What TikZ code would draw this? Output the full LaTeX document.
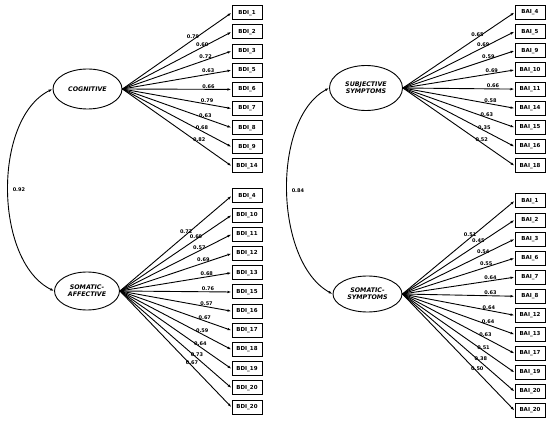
\documentclass[tikz,border=0pt]{standalone}
\usepackage{fontspec}
\setmainfont{DejaVu Sans}[ItalicFont={* Oblique}, BoldItalicFont={* Bold Oblique}]
\usetikzlibrary{arrows.meta,shapes.geometric,calc}

\begin{document}
\begin{tikzpicture}[x=1pt, y=-1pt,
  latente/.style={draw, ellipse, line width=0.9pt, inner sep=0pt, align=center,
    font=\fontsize{6.3}{7.2}\selectfont\bfseries\itshape},
  item/.style={draw, rectangle, line width=1pt, minimum width=30pt, minimum height=14pt,
    inner sep=0pt, font=\fontsize{5.5}{6}\selectfont\bfseries},
  carico/.style={-{Latex[length=4pt,width=2.6pt]}, line width=0.9pt},
  cov/.style={{Latex[length=4pt,width=2.6pt]}-{Latex[length=4pt,width=2.6pt]}, line width=0.9pt},
  peso/.style={font=\fontsize{5}{6}\selectfont\bfseries, inner sep=1pt}]

\useasboundingbox (0,0) rectangle (550,425);

% Fattori latenti
\node[latente, minimum width=69pt, minimum height=40pt] (cog) at (87.5,89) {COGNITIVE};
\node[latente, minimum width=65pt, minimum height=38pt] (saff) at (87,291) {SOMATIC-\\AFFECTIVE};
\node[latente, minimum width=73pt, minimum height=45pt] (subj) at (366,88) {SUBJECTIVE\\SYMPTOMS};
\node[latente, minimum width=69pt, minimum height=36pt] (ssym) at (367.5,294) {SOMATIC-\\SYMPTOMS};

% BDI - cognitivo (nome/etichetta/peso/distanza del peso)
\foreach \nome/\etich/\val/\d [count=\i from 0] in {bdi1/1/0.79/86, bdi2/2/0.60/90,
    bdi3/3/0.72/88, bdi5/5/0.63/87, bdi6/6/0.66/86, bdi7/7/0.79/86, bdi8/8/0.63/88,
    bdi9/9/0.68/90, bdi14/14/0.82/94} {
  \node[item] (\nome) at (247,12.8+19.15*\i) {BDI\_\etich};
  \draw[carico] (cog.east) -- (\nome.west);
  \node[peso, above] (w\nome) at ($(cog.east)!\d pt!(\nome.west)$) {\val};
}

% BDI - somatico-affettivo
\foreach \nome/\etich/\val/\d [count=\i from 0] in {bdi4/4/0.72/87, bdi10/10/0.60/92,
    bdi11/11/0.57/89, bdi12/12/0.69/88, bdi13/13/0.68/88, bdi15/15/0.76/88,
    bdi16/16/0.57/88, bdi17/17/0.67/90, bdi18/18/0.59/93, bdi19/19/0.64/98,
    bdi20a/20/0.73/102, bdi20b/20/0.67/104} {
  \node[item] (\nome) at (247,196+19.2*\i) {BDI\_\etich};
  \draw[carico] (saff.east) -- (\nome.west);
  \node[peso, above] (w\nome) at ($(saff.east)!\d pt!(\nome.west)$) {\val};
}

% BAI - sintomi soggettivi
\foreach \nome/\etich/\val/\d [count=\i from 0] in {bai4/4/0.65/90, bai5/5/0.69/90,
    bai9/9/0.59/90, bai10/10/0.69/90, bai11/11/0.66/90, bai14/14/0.58/89,
    bai15/15/0.63/89, bai16/16/0.35/92, bai18/18/0.52/96} {
  \node[item] (\nome) at (530,12.5+19.15*\i) {BAI\_\etich};
  \draw[carico] (subj.east) -- (\nome.west);
  \node[peso, above] (w\nome) at ($(subj.east)!\d pt!(\nome.west)$) {\val};
}

% BAI - sintomi somatici
\foreach \nome/\etich/\val/\d [count=\i from 0] in {bai1/1/0.51/88, bai2/2/0.45/91,
    bai3/3/0.54/90, bai6/6/0.55/88, bai7/7/0.64/89, bai8/8/0.63/88, bai12/12/0.64/88,
    bai13/13/0.64/91, bai17/17/0.63/94, bai19/19/0.51/99, bai20a/20/0.38/104,
    bai20b/20/0.50/108} {
  \node[item] (\nome) at (530,201+19.05*\i) {BAI\_\etich};
  \draw[carico] (ssym.east) -- (\nome.west);
  \node[peso, above] (w\nome) at ($(ssym.east)!\d pt!(\nome.west)$) {\val};
}

% Correlazioni
\draw[cov] (cog.west) .. controls +(-60,30) and +(-60,-30) .. (saff.west)
  node[peso, pos=0.5, right, xshift=3pt] (rbdi) {0.92};
\draw[cov] (subj.west) .. controls +(-58,32) and +(-58,-32) .. (ssym.west)
  node[peso, pos=0.5, right, xshift=3pt] (rbai) {0.84};
\end{tikzpicture}
\end{document}
